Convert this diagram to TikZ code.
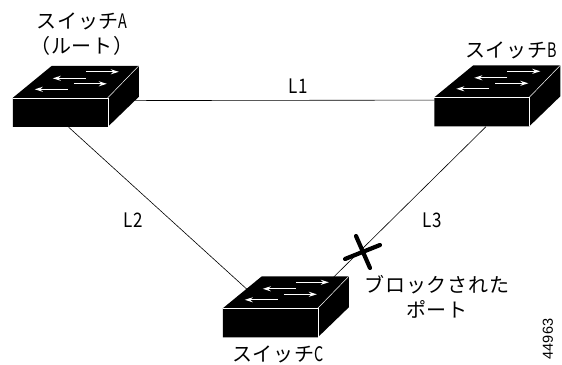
\documentclass[tikz,border=0pt]{standalone}
\usepackage{fontspec}
\newfontfamily\jpfont[LetterSpace=4]{Noto Sans CJK JP}
\newfontfamily\numfont{Liberation Sans}
\usetikzlibrary{arrows.meta,calc}
\newcommand{\halfw}[1]{\scalebox{0.72}[1]{#1}}
\newcommand{\linkw}[1]{\scalebox{0.85}[1]{#1}}
\tikzset{
    swnode/.style={rectangle, inner sep=0pt, minimum width=95pt, minimum height=29pt},
    link/.style={draw=black, line width=0.6pt},
    swedge/.style={draw=white, line width=0.5pt},
    swarrow/.style={draw=white, line width=1.2pt, -{Stealth[length=8pt,width=5pt]}},
    block/.style={line width=4.2pt, draw=black, line cap=round},
    lbl/.style={font=\jpfont\fontsize{20}{24.5}\selectfont, inner sep=0pt, align=center},
}

\begin{document}
\begin{tikzpicture}
        [x=1pt,y=-1pt]

        \useasboundingbox (0,0) rectangle (562,364);

        \node[swnode] (swa) at (60.5,112.5) {};
        \node[swnode] (swb) at (482,112) {};
        \node[swnode] (swc) at (270.5,323) {};

        \draw[link] (swa.14) -- (swb.166);
        \draw[link] (swa.-61) -- (swc.100);
        \draw[link] (swb.-75) -- (swc.25);

        \foreach \sw in {swa,swb,swc} {
            \begin{scope}[shift={(\sw.north west)}]
                \fill[black] (0,0) -- (39,-32) -- (126,-32) -- (126,-1) -- (95,29) -- (0,29) -- cycle;
                \draw[swedge] (0,0) -- (95,0) -- (95,29);
                \draw[swedge] (95,0) -- (126,-32);
                \draw[swarrow] (73,-26) -- (106,-26);
                \draw[swarrow] (73,-19.5) -- (40,-19.5);
                \draw[swarrow] (61,-14) -- (94,-14);
                \draw[swarrow] (55,-8.5) -- (22,-8.5);
            \end{scope}
        }

        \coordinate (xmark) at (362,252);
        \draw[block] ($(xmark)+(-17,7)$) -- ($(xmark)+(18,-7)$);
        \draw[block] ($(xmark)+(-6,-16)$) -- ($(xmark)+(8,16)$);

        \node[lbl] (namea) at (82,34) {スイッチ\halfw{A}\\（ルート）};
        \node[lbl] (nameb) at (511,50) {スイッチ\halfw{B}};
        \node[lbl] (namec) at (278,354) {スイッチ\halfw{C}};
        \node[lbl] (l1) at (298,86) {\linkw{L1}};
        \node[lbl] (l2) at (133,220) {\linkw{L2}};
        \node[lbl] (l3) at (432,220) {\linkw{L3}};
        \node[lbl] (blocked) at (437,297) {ブロックされた\\ポート};
        \node[font=\numfont\fontsize{14.5}{14.5}\selectfont, rotate=90, inner sep=0pt] (fignum) at (548,339) {44963};

    \end{tikzpicture}
\end{document}
